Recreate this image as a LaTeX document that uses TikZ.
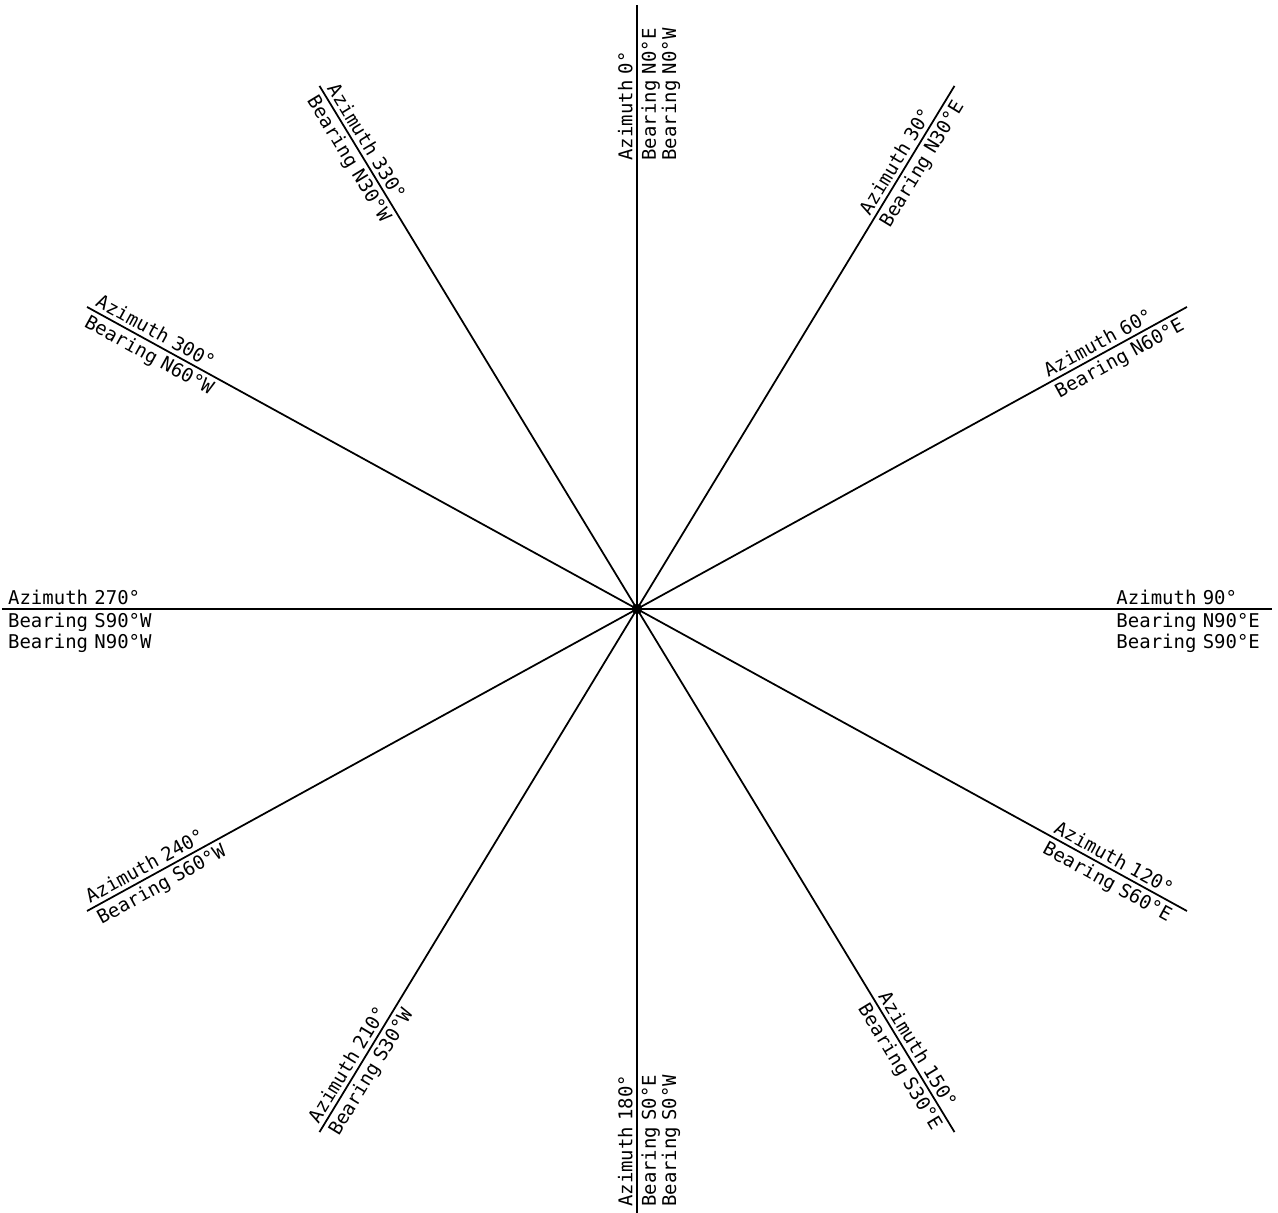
\documentclass[tikz,border=0pt]{standalone}
\usepackage{fontspec}
\newfontfamily\cadfont{DejaVu Sans Mono}
\tikzset{
  ray/.style={line width=0.5pt},
  dirlabel/.style={font=\fontsize{5.4}{5.8}\selectfont\cadfont, sloped,
    inner xsep=1.5pt, inner ysep=1pt, text width=42.5pt, align=left},
}

\begin{document}
\begin{tikzpicture}[x=6.35cm, y=6.04cm]
  \useasboundingbox (-6.37cm,-6.04cm) rectangle (6.41cm,6.09cm);
  \coordinate (O) at (0,0);
  % east half: labels end at the tip
  \foreach \az/\up/\down in {
      0/{Azimuth 0°}/{Bearing N0°E\\Bearing N0°W},
      30/{Azimuth 30°}/{Bearing N30°E},
      60/{Azimuth 60°}/{Bearing N60°E},
      90/{Azimuth 90°}/{Bearing N90°E\\Bearing S90°E},
      120/{Azimuth 120°}/{Bearing S60°E},
      150/{Azimuth 150°}/{Bearing S30°E}}
  {
    \coordinate (tip\az) at ({90-\az}:1);
    \draw[ray] (O) -- (tip\az)
      node[dirlabel, pos=1, anchor=south east] (az\az) {\up}
      node[dirlabel, pos=1, anchor=north east] (br\az) {\down};
  }
  % west half: labels start at the tip
  \foreach \az/\up/\down in {
      180/{Azimuth 180°}/{Bearing S0°E\\Bearing S0°W},
      210/{Azimuth 210°}/{Bearing S30°W},
      240/{Azimuth 240°}/{Bearing S60°W},
      270/{Azimuth 270°}/{Bearing S90°W\\Bearing N90°W},
      300/{Azimuth 300°}/{Bearing N60°W},
      330/{Azimuth 330°}/{Bearing N30°W}}
  {
    \coordinate (tip\az) at ({90-\az}:1);
    \draw[ray] (tip\az) -- (O)
      node[dirlabel, pos=0, anchor=south west] (az\az) {\up}
      node[dirlabel, pos=0, anchor=north west] (br\az) {\down};
  }
  \fill (O) circle (1.5pt);
\end{tikzpicture}
\end{document}
